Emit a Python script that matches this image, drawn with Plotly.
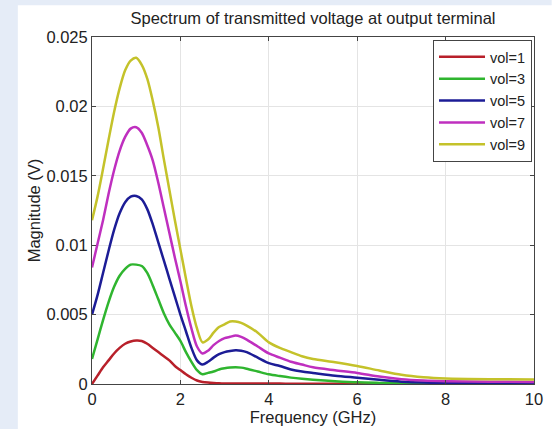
import plotly.graph_objects as go

freq = [0, 0.125, 0.25, 0.375, 0.5, 0.625, 0.75, 0.875, 1.0, 1.125, 1.25, 1.375, 1.5,
        1.625, 1.75, 1.875, 2.0, 2.125, 2.25, 2.375, 2.5, 2.625, 2.75, 2.875, 3.0,
        3.125, 3.25, 3.375, 3.5, 3.75, 4.0, 4.25, 4.5, 4.75, 5.0, 5.5, 6.0, 6.5,
        7.0, 7.5, 8.0, 9.0, 10.0]

vol1 = [0.0, 0.0006, 0.0012, 0.0017, 0.0022, 0.0026, 0.0029, 0.00306, 0.00313, 0.0031,
        0.0029, 0.0026, 0.0023, 0.0020, 0.0017, 0.0013, 0.0010, 0.0007, 0.00045, 0.00025,
        0.00015, 0.0001, 0.00007, 0.00005, 0.00004, 0.00003, 0.00003, 0.00003, 0.00003,
        0.00003, 0.00003, 0.00003, 0.00002, 0.00002, 0.00002, 0.00002, 0.00002, 0.00002,
        0.00002, 0.00002, 0.00002, 0.00002, 0.00002]
vol3 = [0.0018, 0.0032, 0.0046, 0.0059, 0.0070, 0.0078, 0.0083, 0.0086, 0.0086, 0.0085,
        0.0080, 0.0071, 0.0061, 0.0051, 0.0043, 0.0037, 0.0031, 0.0023, 0.0016, 0.0010,
        0.0007, 0.0008, 0.0009, 0.00105, 0.00113, 0.00118, 0.0012, 0.00118, 0.0011,
        0.0009, 0.0007, 0.00057, 0.00046, 0.00037, 0.0003, 0.0002, 0.00012, 0.00008,
        0.00005, 0.00004, 0.00003, 0.00003, 0.00003]
vol5 = [0.0050, 0.0064, 0.0080, 0.0096, 0.0111, 0.0123, 0.0131, 0.0135, 0.01355, 0.0133,
        0.0126, 0.0115, 0.0102, 0.0089, 0.0076, 0.0063, 0.0050, 0.0038, 0.0026, 0.0017,
        0.0014, 0.0016, 0.0019, 0.00215, 0.0023, 0.00238, 0.00243, 0.0024, 0.0023,
        0.0019, 0.0015, 0.0013, 0.00105, 0.0009, 0.0008, 0.0006, 0.00045, 0.0003,
        0.00017, 0.0001, 0.00008, 0.00006, 0.00005]
vol7 = [0.0084, 0.0101, 0.0118, 0.0137, 0.0154, 0.0168, 0.0178, 0.0184, 0.0185, 0.0181,
        0.0172, 0.0161, 0.0145, 0.0127, 0.0109, 0.0091, 0.0074, 0.0056, 0.0040, 0.0027,
        0.0022, 0.0024, 0.0028, 0.0031, 0.0033, 0.0034, 0.0035, 0.0034, 0.0032,
        0.0027, 0.0022, 0.0019, 0.0016, 0.0014, 0.0012, 0.00099, 0.0008, 0.00054,
        0.00035, 0.00025, 0.0002, 0.00016, 0.00015]
vol9 = [0.0118, 0.0135, 0.0155, 0.0176, 0.0196, 0.0213, 0.0226, 0.0233, 0.0235, 0.0230,
        0.0220, 0.0204, 0.0185, 0.0162, 0.0140, 0.0118, 0.0097, 0.0076, 0.0056, 0.0040,
        0.0030, 0.0032, 0.0037, 0.0041, 0.0043, 0.0045, 0.0045, 0.0044, 0.0042,
        0.0037, 0.0030, 0.0026, 0.0023, 0.0020, 0.0018, 0.00157, 0.0013, 0.00097,
        0.00066, 0.00048, 0.00039, 0.00034, 0.00033]

series = [
    ("vol=1", vol1, "#b8202a"),
    ("vol=3", vol3, "#2fb52f"),
    ("vol=5", vol5, "#1c1c96"),
    ("vol=7", vol7, "#bf2fbf"),
    ("vol=9", vol9, "#c4c22a"),
]

fig = go.Figure()
for name, vals, col in series:
    fig.add_trace(go.Scatter(
        x=freq, y=vals, name=name, mode="lines",
        line=dict(color=col, width=2.5, shape="spline", smoothing=0.8),
    ))

font_family = "Liberation Sans, Arial, sans-serif"
fs = 16.5
axis_common = dict(
    showline=True, linecolor="#444", linewidth=1, mirror="ticks",
    ticks="inside", ticklen=4, tickcolor="#444",
    showgrid=True, gridcolor="#e4e4e4", gridwidth=1,
    zeroline=False,
    tickfont=dict(family=font_family, size=fs, color="#222"),
)

fig.update_layout(
    width=555, height=433,
    margin=dict(l=92, r=16, t=37, b=45),
    paper_bgcolor="white", plot_bgcolor="white",
    font=dict(family=font_family, size=fs, color="#222"),
    title=dict(text="Spectrum of transmitted voltage at output terminal",
               x=0.5, xref="paper", xanchor="center",
               y=1 - 18 / 433, yref="container", yanchor="middle",
               font=dict(family=font_family, size=fs, color="#222")),
    xaxis=dict(range=[0, 10], dtick=2, tick0=0,
               title=dict(text="Frequency (GHz)", standoff=2,
                          font=dict(family=font_family, size=fs, color="#222")),
               **axis_common),
    yaxis=dict(range=[0, 0.025], dtick=0.005, tick0=0,
               title=dict(text="Magnitude (V)", standoff=1,
                          font=dict(family=font_family, size=fs, color="#222")),
               **axis_common),
    legend=dict(x=0.9955, y=0.9915, xanchor="right", yanchor="top",
                bgcolor="white", bordercolor="#444", borderwidth=1,
                font=dict(family=font_family, size=14.5, color="#222"),
                itemwidth=46, tracegroupgap=0),
    showlegend=True,
    shapes=[
        dict(type="rect", xref="paper", yref="paper",
             x0=-0.21, x1=-0.1678, y0=-0.13, y1=1.12,
             fillcolor="#e5ecf7", line=dict(width=0), layer="below"),
        dict(type="rect", xref="paper", yref="paper",
             x0=-0.21, x1=1.04, y0=1.0912, y1=1.12,
             fillcolor="#e5ecf7", line=dict(width=0), layer="below"),
    ],
)

fig.write_html("out.html")
